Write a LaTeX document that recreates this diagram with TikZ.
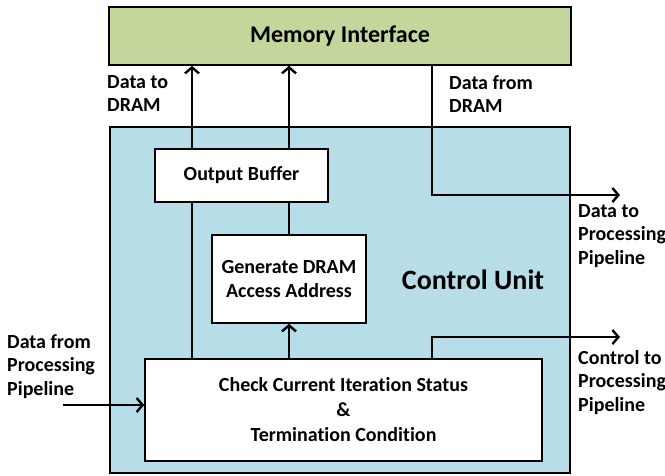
\documentclass[tikz,border=0pt]{standalone}
\usepackage{fontspec}
\setmainfont{Carlito}[Ligatures=NoCommon]
\usepackage{tikz}
\usetikzlibrary{calc,arrows.meta}

\definecolor{memgreen}{RGB}{195,214,155}
\definecolor{cublue}{RGB}{183,221,232}

\begin{document}
\begin{tikzpicture}[x=1pt,y=-1pt,
    font=\bfseries\fontsize{20}{23.5}\selectfont,
    blk/.style={draw,line width=1.6pt,fill=white,align=center,inner sep=0pt},
    wire/.style={line width=2.6pt},
    arr/.style={wire,-{Straight Barb[length=6pt,width=14pt,line width=2.4pt]}},
    lbl/.style={anchor=north west,align=left,inner sep=0pt}]
      \useasboundingbox (0,0) rectangle (665,475);

      \node[blk,fill=memgreen,minimum width=462pt,minimum height=58pt,
        font=\bfseries\fontsize{24}{28}\selectfont] (mem) at (340,36) {Memory Interface};
      \node[blk,fill=cublue,minimum width=460pt,minimum height=346pt] (cu) at (340,300) {};
      \node[font=\bfseries\fontsize{28}{32}\selectfont] (cutxt) at (473,280) {Control Unit};

      \node[blk,minimum width=173pt,minimum height=53pt] (ob) at (241.5,175.5) {Output Buffer};
      \node[blk,minimum width=154pt,minimum height=88pt] (gen) at (289,279)
        {Generate DRAM\\Access Address};
      \node[blk,minimum width=397pt,minimum height=102pt] (chk) at (343.5,410)
        {Check Current Iteration Status\\[1.5pt]\&\\[1.5pt]Termination Condition};

      % columns of the vertical wires
      \coordinate (xa) at (192,0);
      \coordinate (xc) at (432,0);
      \coordinate (dout) at (620,195);
      \coordinate (cout) at (620,337);
      \coordinate (din) at (63,405);

      \draw[wire] (chk.north -| xa) -- (ob.south -| xa);
      \draw[arr] (ob.north -| xa) -- (mem.south -| xa);
      \draw[arr] (ob.north -| gen.north) -- (mem.south -| gen.north);
      \draw[wire] (gen.north) -- (ob.south -| gen.north);
      \draw[arr] (chk.north -| gen.south) -- (gen.south);
      \draw[arr] (mem.south -| xc) |- (dout);
      \draw[arr] (chk.north -| xc) |- (cout);
      \draw[arr] (din) -- (chk.west |- din);

      \node[lbl] (l1) at (107,75) {Data to\\DRAM};
      \node[lbl] (l2) at (449,75) {Data from\\DRAM};
      \node[lbl] (l3) at (578,204) {Data to\\Processing\\Pipeline};
      \node[lbl] (l4) at (578,350) {Control to\\Processing\\Pipeline};
      \node[lbl] (l5) at (7,334) {Data from\\Processing\\Pipeline};
\end{tikzpicture}
\end{document}
